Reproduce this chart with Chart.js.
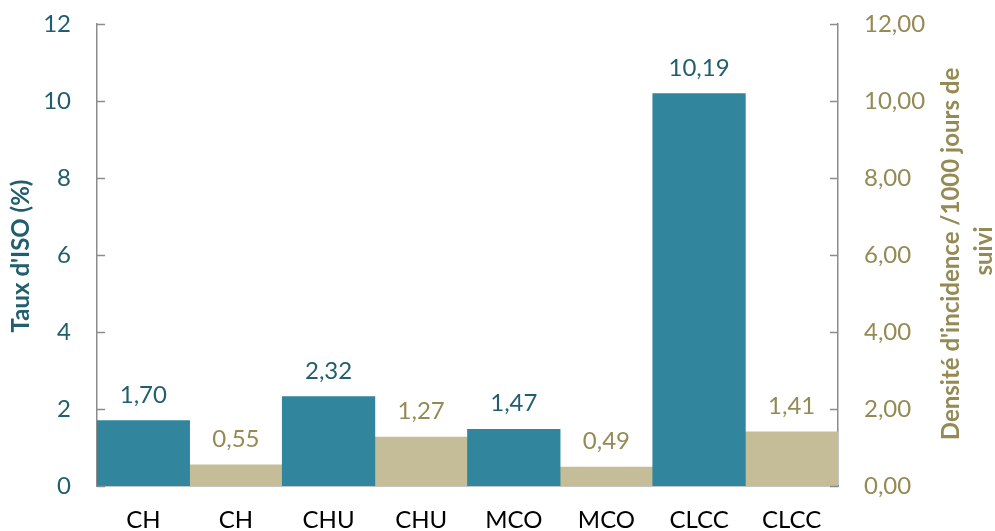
<!DOCTYPE html>
<html>
<head>
<meta charset="utf-8">
<script src="https://cdn.jsdelivr.net/npm/chart.js@4/dist/chart.umd.min.js"></script>
<style>
html,body{margin:0;padding:0;background:#fff;}
#wrap{width:995px;height:531px;}
</style>
</head>
<body>
<div id="wrap"><canvas id="c" width="995" height="531"></canvas></div>
<script>
const categories = ['CH', 'CH', 'CHU', 'CHU', 'MCO', 'MCO', 'CLCC', 'CLCC'];
const rateValues = [1.70, null, 2.32, null, 1.47, null, 10.19, null];
const densityValues = [null, 0.55, null, 1.27, null, 0.49, null, 1.41];
const leftTitle = "Taux d'ISO (%)";
const rightTitle = ["Densité d'incidence /1000 jours de", "suivi"];

const TEAL = '#31859c';
const TEAL_TEXT = '#215e6e';
const TAN = '#c4bd97';
const OLIVE = '#948a54';
const AXIS = '#8c8c8c';
const FONT = 'Lato';
const FS = 24;

const fmt2 = v => v.toFixed(2).replace('.', ',');

const extras = {
  id: 'extras',
  afterDatasetsDraw(chart) {
    const ctx = chart.ctx;
    ctx.save();
    ctx.font = FS + 'px ' + FONT;
    ctx.textAlign = 'center';
    ctx.textBaseline = 'alphabetic';
    chart.data.datasets.forEach((ds, i) => {
      const meta = chart.getDatasetMeta(i);
      meta.data.forEach((el, j) => {
        const v = ds.data[j];
        if (v === null || v === undefined) return;
        ctx.fillStyle = ds.labelColor;
        ctx.fillText(fmt2(v), el.x, el.y - 18);
      });
    });
    ctx.restore();
  },
  afterDraw(chart) {
    const ctx = chart.ctx;
    const a = chart.chartArea;
    ctx.save();
    ctx.strokeStyle = AXIS;
    ctx.lineWidth = 1.5;
    const y = chart.scales.y, y2 = chart.scales.y2;
    y.ticks.forEach(t => {
      const py = Math.round(y.getPixelForValue(t.value)) + 0.5;
      ctx.beginPath(); ctx.moveTo(a.left, py); ctx.lineTo(a.left + 8, py); ctx.stroke();
    });
    y2.ticks.forEach(t => {
      const py = Math.round(y2.getPixelForValue(t.value)) + 0.5;
      ctx.beginPath(); ctx.moveTo(a.right - 8, py); ctx.lineTo(a.right, py); ctx.stroke();
    });
    const cy = (a.top + a.bottom) / 2;
    ctx.font = 'bold 24px ' + FONT;
    ctx.textAlign = 'center';
    ctx.textBaseline = 'middle';
    ctx.fillStyle = TEAL_TEXT;
    ctx.save();
    ctx.translate(21, cy + 1);
    ctx.rotate(-Math.PI / 2);
    ctx.fillText(leftTitle, 0, 0);
    ctx.restore();
    ctx.fillStyle = OLIVE;
    ctx.save();
    ctx.translate(951, cy - 1);
    ctx.rotate(-Math.PI / 2);
    ctx.fillText(rightTitle[0], 0, 0);
    ctx.restore();
    ctx.save();
    ctx.translate(984, cy - 4);
    ctx.rotate(-Math.PI / 2);
    ctx.fillText(rightTitle[1], 0, 0);
    ctx.restore();
    ctx.restore();
  }
};

new Chart(document.getElementById('c'), {
  type: 'bar',
  data: {
    labels: categories,
    datasets: [
      { label: 'Taux', data: rateValues, yAxisID: 'y', backgroundColor: TEAL, labelColor: TEAL_TEXT,
        grouped: false, barPercentage: 1, categoryPercentage: 1, borderWidth: 0 },
      { label: 'Densité', data: densityValues, yAxisID: 'y2', backgroundColor: TAN, labelColor: OLIVE,
        grouped: false, barPercentage: 1, categoryPercentage: 1, borderWidth: 0 }
    ]
  },
  options: {
    responsive: false,
    animation: false,
    layout: { padding: { top: 24, left: 0, right: 0, bottom: 0 } },
    plugins: { legend: { display: false }, tooltip: { enabled: false } },
    scales: {
      x: {
        z: 1,
        grid: { display: false, drawTicks: false },
        border: { display: true, color: AXIS, width: 1.5 },
        ticks: { color: '#000', font: { family: FONT, size: FS }, padding: 20, maxRotation: 0, autoSkip: false },
        afterFit: s => { s.height = 45; s.paddingLeft = 0; s.paddingRight = 0; }
      },
      y: {
        z: 1,
        position: 'left',
        min: 0, max: 12,
        grid: { display: false, drawTicks: false },
        border: { display: true, color: AXIS, width: 1.5 },
        ticks: { stepSize: 2, color: TEAL_TEXT, font: { family: FONT, size: FS }, padding: 26 },
        afterFit: s => { s.width = 97; s.paddingTop = 0; s.paddingBottom = 0; }
      },
      y2: {
        z: 1,
        position: 'right',
        min: 0, max: 12,
        grid: { display: false, drawTicks: false },
        border: { display: true, color: AXIS, width: 1.5 },
        ticks: { stepSize: 2, color: OLIVE, font: { family: FONT, size: FS }, padding: 26, callback: v => fmt2(v) },
        afterFit: s => { s.width = 157; s.paddingTop = 0; s.paddingBottom = 0; }
      }
    }
  },
  plugins: [extras]
});
</script>
</body>
</html>
